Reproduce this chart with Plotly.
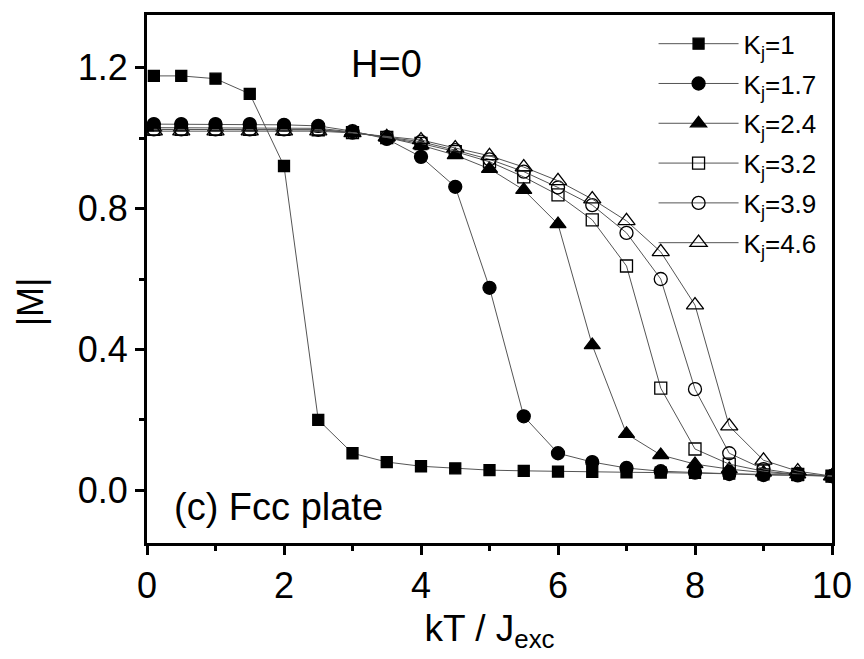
import plotly.graph_objects as go

kT = [0.1, 0.5, 1.0, 1.5, 2.0, 2.5, 3.0, 3.5, 4.0, 4.5, 5.0, 5.5, 6.0, 6.5, 7.0, 7.5, 8.0, 8.5, 9.0, 9.5, 10.0]

M_k1_0 = [1.177, 1.177, 1.169, 1.126, 0.921, 0.200, 0.105, 0.080, 0.068, 0.062, 0.057, 0.055, 0.053, 0.052, 0.051, 0.050, 0.049, 0.047, 0.045, 0.043, 0.040]
M_k1_7 = [1.040, 1.040, 1.040, 1.040, 1.038, 1.035, 1.020, 0.998, 0.947, 0.862, 0.575, 0.210, 0.105, 0.080, 0.063, 0.054, 0.050, 0.046, 0.043, 0.042, 0.040]
M_k2_4 = [1.030, 1.030, 1.030, 1.030, 1.030, 1.028, 1.018, 1.002, 0.980, 0.952, 0.913, 0.853, 0.756, 0.412, 0.160, 0.100, 0.074, 0.060, 0.050, 0.045, 0.040]
M_k3_2 = [1.025, 1.025, 1.025, 1.025, 1.025, 1.024, 1.016, 1.002, 0.985, 0.962, 0.933, 0.890, 0.839, 0.768, 0.637, 0.290, 0.117, 0.074, 0.054, 0.045, 0.040]
M_k3_9 = [1.025, 1.025, 1.025, 1.025, 1.025, 1.024, 1.016, 1.003, 0.990, 0.966, 0.940, 0.905, 0.860, 0.810, 0.731, 0.600, 0.287, 0.105, 0.060, 0.046, 0.040]
M_k4_6 = [1.020, 1.020, 1.020, 1.020, 1.020, 1.020, 1.015, 1.004, 0.995, 0.972, 0.950, 0.918, 0.879, 0.827, 0.765, 0.677, 0.526, 0.182, 0.085, 0.054, 0.040]

series_names = ["K<sub>j</sub>=1", "K<sub>j</sub>=1.7", "K<sub>j</sub>=2.4",
                "K<sub>j</sub>=3.2", "K<sub>j</sub>=3.9", "K<sub>j</sub>=4.6"]
series_vals = [M_k1_0, M_k1_7, M_k2_4, M_k3_2, M_k3_9, M_k4_6]
symbols = ["square", "circle", "triangle-up", "square-open", "circle-open", "triangle-up-open"]
sizes = [11, 13, 14, 12, 13, 15]

fig = go.Figure()
for i, (name, vals, sym, sz) in enumerate(zip(series_names, series_vals, symbols, sizes)):
    fig.add_trace(go.Scatter(
        x=kT, y=vals, name=name, mode="lines+markers", legendgroup=f"g{i}",
        line=dict(color="#555555", width=1),
        marker=dict(symbol=sym, size=sz, color="black",
                    line=dict(color="black", width=1.3)),
    ))

font_family = "Liberation Sans, Arial, sans-serif"

fig.update_layout(
    width=864, height=659,
    margin=dict(l=147, r=26, t=13, b=116),
    paper_bgcolor="white", plot_bgcolor="white",
    font=dict(family=font_family, color="black", size=36),
    showlegend=True,
    legend=dict(x=0.7395, y=0.99, xanchor="left", yanchor="top",
                bgcolor="rgba(0,0,0,0)", font=dict(size=26),
                itemwidth=80, tracegroupgap=3),
    xaxis=dict(range=[0, 10], tickvals=[0, 2, 4, 6, 8, 10],
               showline=True, linewidth=3, linecolor="black", mirror=True,
               ticks="outside", ticklen=9, tickwidth=3, tickcolor="black",
               minor=dict(tickvals=[1, 3, 5, 7, 9], ticks="outside", ticklen=5,
                          tickwidth=3, tickcolor="black"),
               showgrid=False, zeroline=False,
               tickfont=dict(size=36),
               title=dict(text="kT / J<sub>exc</sub>", font=dict(size=37), standoff=10)),
    yaxis=dict(range=[-0.15, 1.35], tickvals=[0.0, 0.4, 0.8, 1.2],
               ticktext=["0.0", "0.4", "0.8", "1.2"],
               showline=True, linewidth=3, linecolor="black", mirror=True,
               ticks="outside", ticklen=9, tickwidth=3, tickcolor="black",
               minor=dict(tickvals=[0.2, 0.6, 1.0], ticks="outside", ticklen=5,
                          tickwidth=3, tickcolor="black"),
               showgrid=False, zeroline=False,
               tickfont=dict(size=36)),
    annotations=[
        dict(text="|M|", x=-0.17, y=0.457, xref="paper", yref="paper",
             textangle=-90, showarrow=False, font=dict(size=36),
             xanchor="center", yanchor="middle"),
        dict(text="H=0", x=0.349, y=0.9075, xref="paper", yref="paper",
             showarrow=False, font=dict(size=38), xanchor="center", yanchor="middle"),
        dict(text="(c) Fcc plate", x=0.036, y=0.068, xref="paper", yref="paper",
             showarrow=False, font=dict(size=38), xanchor="left", yanchor="middle"),
    ],
)

fig.write_html("out.html")
